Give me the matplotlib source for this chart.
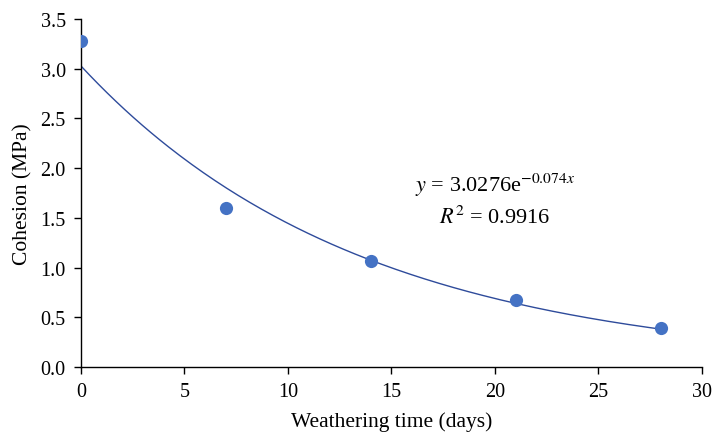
import numpy as np
import matplotlib.pyplot as plt

plt.rcParams['font.family'] = 'Liberation Serif'
plt.rcParams['mathtext.fontset'] = 'stix'

# measured cohesion vs weathering time
days = [0, 7, 14, 21, 28]
cohesion = [3.28, 1.60, 1.07, 0.67, 0.39]

# exponential fit y = a*exp(b*x)
fit_a = 3.0276
fit_b = -0.074
fit_r2 = 0.9916

xticks = [0, 5, 10, 15, 20, 25, 30]
yticks = [0.0, 0.5, 1.0, 1.5, 2.0, 2.5, 3.0, 3.5]

fig = plt.figure(figsize=(7.14, 4.35), dpi=100)
ax = fig.add_axes([0.1134, 0.154, 0.8697, 0.80])

xf = np.linspace(days[0], days[-1], 200)
ax.plot(xf, fit_a*np.exp(fit_b*xf), color='#2E4B9B', lw=1.0, zorder=2)
ax.plot(days, cohesion, 'o', color='#4472C4', ms=9.5, mec='none', zorder=3)

ax.text(20.0, 1.84, r'$y$ = 3.0276e$^{-0.074x}$', fontsize=16, ha='center', va='center')
ax.text(20.0, 1.51, r'$R^{2}$ = %.4f' % fit_r2, fontsize=16, ha='center', va='center')

ax.set_xlim(0, 30)
ax.set_ylim(0, 3.5)
ax.set_xticks(xticks)
ax.set_yticks(yticks)
ax.set_yticklabels(['%.1f' % v for v in yticks])
ax.tick_params(direction='out', length=5, width=1, labelsize=14.5, pad=6)
ax.spines['top'].set_visible(False)
ax.spines['right'].set_visible(False)
for s in ('left', 'bottom'):
    ax.spines[s].set_linewidth(1.0)
ax.set_xlabel('Weathering time (days)', fontsize=15.5, labelpad=7)
ax.set_ylabel('Cohesion (MPa)', fontsize=15.5, labelpad=6)

fig.savefig('out.png', dpi=100)
